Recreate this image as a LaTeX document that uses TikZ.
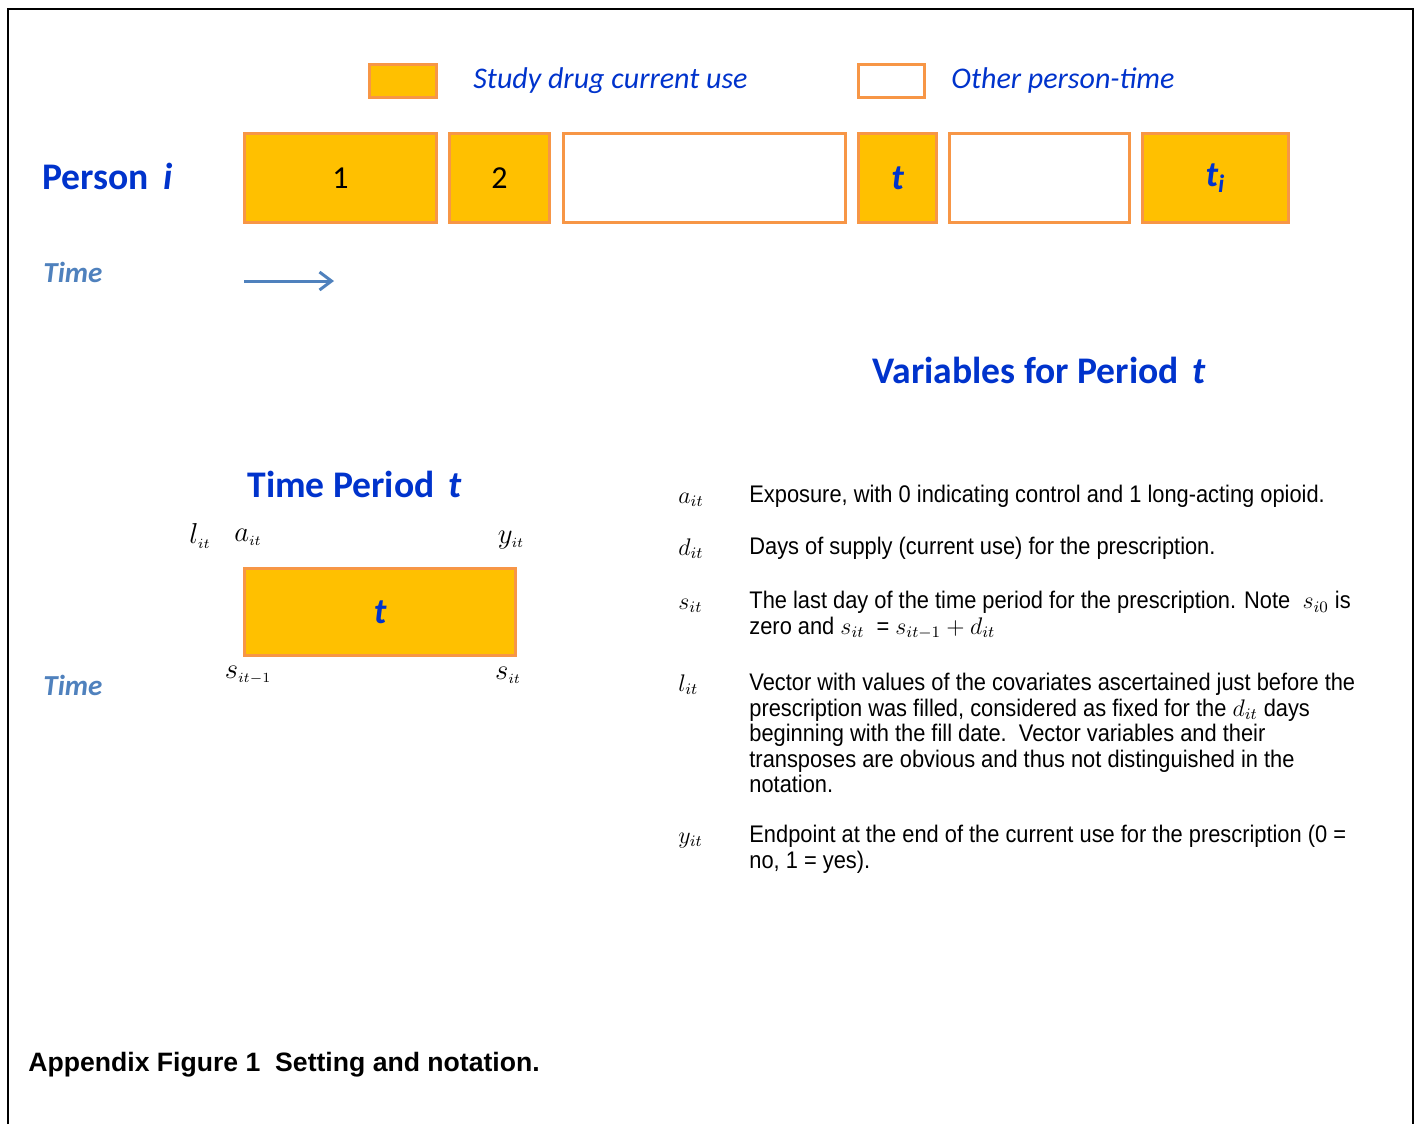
\documentclass[tikz,border=0pt]{standalone}
\usepackage{fontspec}
\setmainfont{Carlito}
\newfontfamily\arialfont[FakeStretch=0.91]{Liberation Sans}
\newfontfamily\captionfont{Liberation Sans}
\usetikzlibrary{positioning,arrows.meta}
\definecolor{useyellow}{RGB}{255,192,0}
\definecolor{boxorange}{RGB}{247,150,70}
\definecolor{titleblue}{RGB}{0,51,204}
\definecolor{timeblue}{RGB}{79,129,189}

\begin{document}
\begin{tikzpicture}[x=0.5pt, y=-0.5pt,
  every node/.style={inner sep=0pt},
  period/.style={rectangle, draw=boxorange, line width=1.5pt, minimum height=44.5pt},
  current/.style={period, fill=useyellow},
  other/.style={period, fill=white},
  title/.style={font=\fontsize{18.8}{22}\selectfont\bfseries, text=titleblue, anchor=west},
  timelabel/.style={font=\fontsize{14.5}{17}\selectfont\bfseries\itshape, text=timeblue, anchor=west},
  legend/.style={font=\fontsize{15}{18}\selectfont\itshape, text=titleblue, anchor=west},
  num/.style={font=\fontsize{16}{19}\selectfont},
  tlabel/.style={font=\fontsize{18}{21}\selectfont\bfseries\itshape, text=titleblue},
  notation/.style={font=\fontsize{15}{18}\selectfont},
  sym/.style={font=\fontsize{12}{14}\selectfont, anchor=base west},
  desc/.style={font=\arialfont\fontsize{12}{12.75}\selectfont, align=left, anchor=north west}
]
  \useasboundingbox (0,0) rectangle (1418,1124);
  % frame, open at the bottom
  \draw[line width=1pt] (8,1124) |- (1413,9) -- (1413,1124);

  % legend
  \node[current, minimum width=33.5pt, minimum height=16.5pt] (key-use) at (403,81) {};
  \node[legend] (key-use-text) at (473,81) {Study drug current use};
  \node[other, minimum width=33pt, minimum height=16.5pt] (key-other) at (891.5,81) {};
  \node[legend] (key-other-text) at (951,81) {Other person-time};

  % person-time line
  \node[title] (person) at (42,176) {Person\hspace{7pt}\textit{i}};
  \node[current, num, minimum width=96pt] (p1) at (340.5,178) {1};
  \node[current, num, minimum width=50pt] (p2) at (499.5,178) {2};
  \node[other, minimum width=141pt] (gap1) at (704.5,178) {};
  \node[current, tlabel, minimum width=39pt] (pt) at (897.5,178) {t};
  \node[other, minimum width=90pt] (gap2) at (1039.5,178) {};
  \node[current, tlabel, minimum width=73pt] (pti) at (1215.5,178) {t\textsubscript{i}};

  \node[timelabel] (time1) at (43,272) {Time};
  \coordinate (arr-start) at (244,281);
  \coordinate (arr-end) at (334,281);
  \draw[-{Straight Barb[length=6pt,width=9pt]}, timeblue, line width=1.5pt] (arr-start) -- (arr-end);

  % one period
  \node[title] (vars) at (872,370) {Variables for Period\hspace{7pt}\textit{t}};
  \node[title] (tp) at (247,484) {Time Period\hspace{7pt}\textit{t}};
  \node[current, tlabel, minimum width=135.5pt, minimum height=43.5pt] (box-t) at (380,612) {t};
  \node[notation] (l-lab) at (200,536) {$l_{\scriptscriptstyle it}$};
  \node[notation] (a-lab) at (248,537) {$a_{\scriptscriptstyle it}$};
  \node[notation] (y-lab) at (511,540) {$y_{\scriptscriptstyle it}$};
  \node[notation] (s0-lab) at (248,675) {$s_{\scriptscriptstyle it-1}$};
  \node[notation] (s1-lab) at (508,675) {$s_{\scriptscriptstyle it}$};
  \node[timelabel] (time2) at (43,685) {Time};

  % notation list
  \node[sym] (sym-a) at (678,503) {$a_{it}$};
  \node[desc] (desc-a) at (749,485) {Exposure, with 0 indicating control and 1 long-acting opioid.};
  \node[sym] (sym-d) at (678,555) {$d_{it}$};
  \node[desc] (desc-d) at (749,537) {Days of supply (current use) for the prescription.};
  \node[sym] (sym-s) at (678,609) {$s_{it}$};
  \node[desc] (desc-s) at (749,591) {The last day of the time period for the prescription. Note~ $s_{i0}$ is\\
    zero and $s_{it}$ ~= $s_{it-1} + d_{it}$};
  \node[sym] (sym-l) at (678,691) {$l_{it}$};
  \node[desc] (desc-l) at (749,673) {Vector with values of the covariates ascertained just before the\\
    prescription was filled, considered as fixed for the $d_{it}$ days\\
    beginning with the fill date.\ \ Vector variables and their\\
    transposes are obvious and thus not distinguished in the\\
    notation.};
  \node[sym] (sym-y) at (678,843) {$y_{it}$};
  \node[desc] (desc-y) at (749,825) {Endpoint at the end of the current use for the prescription (0 =\\
    no, 1 = yes).};

  \node[font=\captionfont\bfseries\fontsize{13.3}{16}\selectfont, anchor=west] (caption) at (28,1065) {Appendix Figure 1\ \ Setting and notation.};
\end{tikzpicture}
\end{document}
